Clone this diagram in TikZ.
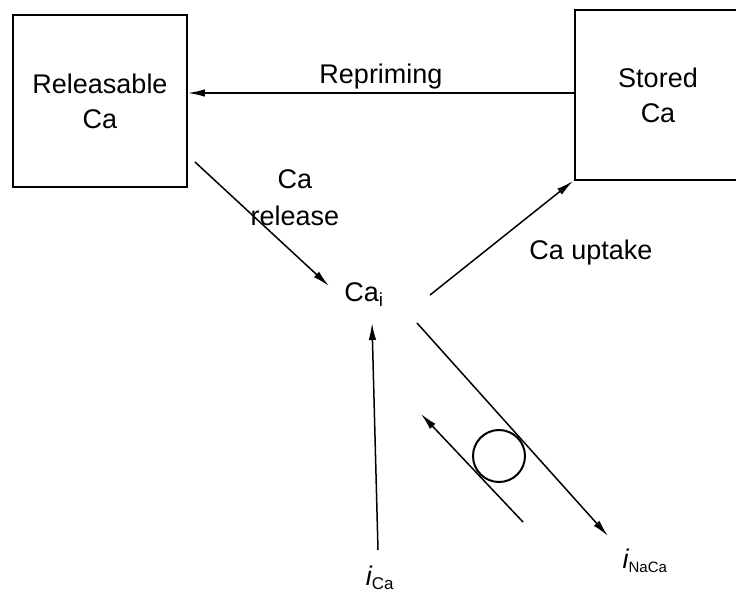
\documentclass[tikz,border=0pt]{standalone}
\usepackage{fontspec}
\setmainfont{Liberation Sans}
\usetikzlibrary{arrows.meta}
\begin{document}
\begin{tikzpicture}[x=1pt,y=-1pt,
  every node/.style={font=\fontsize{27}{35}\selectfont, inner sep=0pt},
  pool/.style={draw, line width=1.8pt, rectangle, align=center},
  flow/.style={line width=1.5pt, -{Latex[length=17pt,width=7.5pt]}},
  lbl/.style={align=center}]
  \useasboundingbox (0,0) rectangle (736,598);

  % calcium pools
  \node[pool, minimum width=174pt, minimum height=172pt] (rel) at (100,101)
    {Releasable\\Ca};
  \node[pool, minimum width=166pt, minimum height=170pt] (sto) at (658,95)
    {Stored\\Ca};
  \node (cai) at (364,295) {Ca$_{\mathrm{i}}$};

  % repriming
  \coordinate (rpy) at (0,93);
  \draw[flow] (sto.west |- rpy) -- (rel.east |- rpy);
  \node (rep) at (381,77) {Repriming};

  % release from the releasable pool
  \coordinate (relA) at (195,162);
  \coordinate (relB) at (329,286);
  \draw[flow] (relA) -- (relB);
  \node[lbl, font=\fontsize{27}{37}\selectfont] (reltxt) at (295,198) {Ca\\release};

  % uptake into the stored pool
  \coordinate (upA) at (430,295);
  \coordinate (upB) at (573,181);
  \draw[flow] (upA) -- (upB);
  \node (uptxt) at (591,253) {Ca uptake};

  % calcium current
  \coordinate (icA) at (378,550);
  \coordinate (icB) at (372,323);
  \draw[flow] (icA) -- (icB);
  \node (ica) at (380,578) {$\mathit{i}_{\mbox{\fontsize{17}{17}\selectfont Ca}}$};

  % Na/Ca exchanger
  \coordinate (exA) at (417,323);
  \coordinate (exB) at (608,536);
  \draw[flow] (exA) -- (exB);
  \coordinate (exC) at (523,522);
  \coordinate (exD) at (421,414);
  \draw[flow] (exC) -- (exD);
  \node[draw, circle, line width=2pt, minimum size=52pt] (pump) at (499,456) {};
  \node (inaca) at (645,561) {$\mathit{i}_{\mbox{\fontsize{15}{15}\selectfont NaCa}}$};
\end{tikzpicture}
\end{document}
